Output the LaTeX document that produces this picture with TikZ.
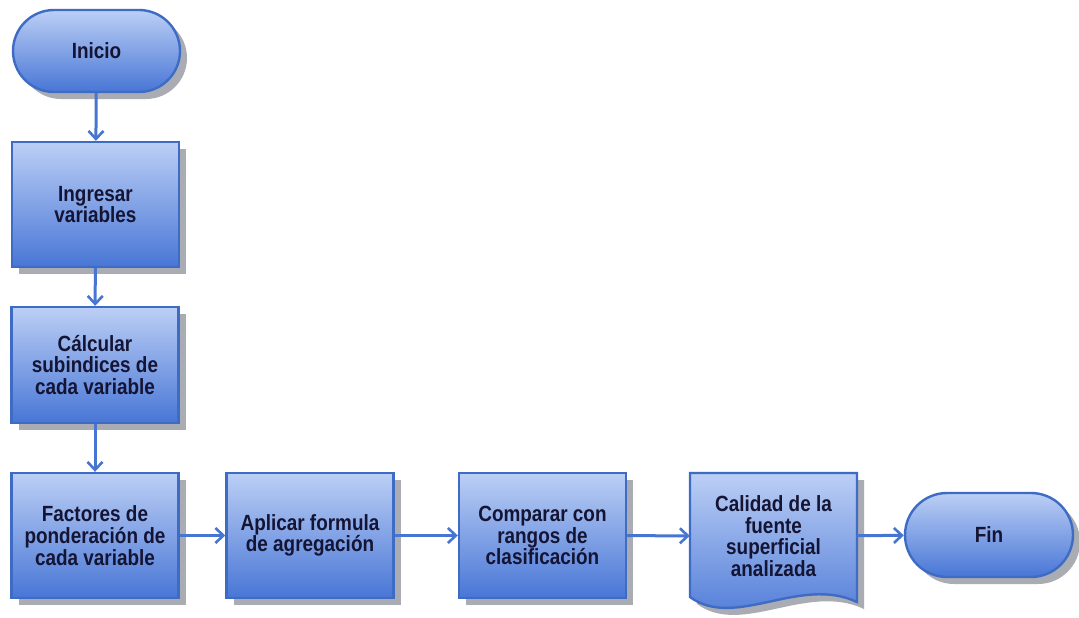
\documentclass[tikz,border=0pt]{standalone}
\usepackage{fontspec}
\setmainfont{Liberation Sans}
\newfontfamily\narrowfont[FakeStretch=0.86]{Liberation Sans}
\usetikzlibrary{shapes.misc,shadows,arrows.meta}
\definecolor{bord}{RGB}{62,108,196}
\definecolor{topc}{RGB}{188,207,245}
\definecolor{botc}{RGB}{72,118,214}
\definecolor{txtc}{RGB}{20,20,52}
\definecolor{arrc}{RGB}{70,118,210}
\definecolor{shad}{RGB}{160,163,170}
\tikzset{
  lbl/.style={text=txtc, align=center, font=\narrowfont\fontsize{22}{21.7}\selectfont\bfseries},
  base/.style={lbl, draw=bord, line width=2.4pt, top color=topc, bottom color=botc,
    drop shadow={shadow xshift=7pt, shadow yshift=-7pt, fill=shad, opacity=0.9}},
  procbox/.style={base, rectangle, minimum width=167pt, minimum height=125pt, inner sep=0pt},
  termbox/.style={base, rounded rectangle, minimum width=167pt, minimum height=82pt, inner sep=0pt},
  arr/.style={draw=arrc, line width=3pt, -{Straight Barb[length=8pt,width=15pt,line width=2.6pt]}},
}
\begin{document}
\begin{tikzpicture}[x=1pt,y=-1pt]
\useasboundingbox[fill=white] (0,0) rectangle (1079,618);
\node[termbox] (ini) at (96.5,51) {Inicio};
\node[procbox] (ing) at (95.5,204.5) {Ingresar\\variables};
\node[procbox, minimum height=116pt] (cal) at (95,365) {Cálcular\\subindices de\\cada variable};
\node[procbox] (fac) at (95,535.5) {Factores de\\ponderación de\\cada variable};
\node[procbox] (apl) at (310,535.5) {Aplicar formula\\de agregación};
\node[procbox] (com) at (542.5,535.5) {Comparar con\\rangos de\\clasificación};
% document shape
\begin{scope}[transform canvas={xshift=7pt,yshift=-7pt}]
\path[fill=shad, opacity=0.9]
  (690,473) -- (857,473) -- (857,602) .. controls (800,575) and (735,630) .. (690,597) -- cycle;
\end{scope}
\path[draw=bord, line width=2.4pt, top color=topc, bottom color=botc]
  (690,473) -- (857,473) -- (857,602) .. controls (800,575) and (735,630) .. (690,597) -- cycle;
\node[lbl, minimum width=167pt, minimum height=125pt, inner sep=0pt] (doc) at (773.5,536)
  {Calidad de la\\fuente\\superficial\\analizada};
\node[termbox, minimum width=168pt, minimum height=84pt] (fin) at (989,535) {Fin};
\draw[arr] (ini) -- (ing);
\draw[arr] (ing) -- (cal);
\draw[arr] (cal) -- (fac);
\draw[arr] (fac) -- (apl);
\draw[arr] (apl) -- (com);
\draw[arr] (com) -- (doc);
\draw[arr] (doc) -- (fin);
\end{tikzpicture}
\end{document}
